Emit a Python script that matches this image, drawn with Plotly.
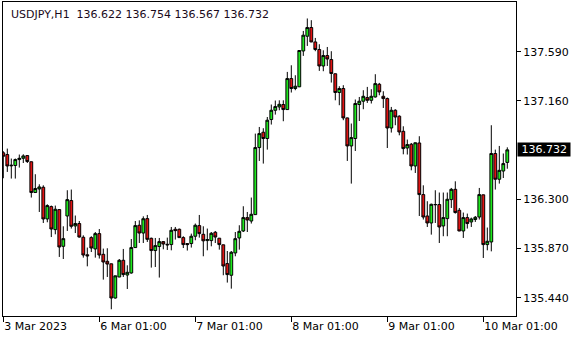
import plotly.graph_objects as go

symbol = "USDJPY,H1"
opens = [136.706,136.691,136.592,136.595,136.647,136.658,136.682,136.628,136.359,136.390,
136.405,136.128,136.236,136.035,136.210,135.889,136.154,136.289,136.067,136.088,
135.968,135.815,135.965,135.866,136.000,135.819,135.758,135.736,135.437,135.621,
135.767,135.638,135.656,135.878,136.073,136.005,136.131,135.959,135.852,135.887,
135.930,135.907,135.904,136.038,136.038,135.965,135.913,135.913,135.977,136.070,
135.994,135.939,135.939,136.012,135.960,135.902,135.738,135.636,135.831,135.962,
136.023,136.140,136.110,136.166,136.752,136.886,136.831,136.997,137.078,137.107,
137.128,137.084,137.355,137.268,137.283,137.596,137.725,137.801,137.675,137.609,
137.465,137.556,137.521,137.397,137.233,137.268,137.011,136.766,136.831,137.128,
137.157,137.189,137.165,137.194,137.305,137.200,137.180,136.923,137.078,137.026,
136.894,136.748,136.781,136.591,136.792,136.341,136.154,136.093,136.252,136.254,
136.067,136.131,136.297,136.387,136.204,136.023,136.140,136.102,136.123,136.145,
136.339,135.904,135.927,136.700,136.475,136.547,136.622]
highs = [136.720,136.743,136.656,136.656,136.691,136.693,136.685,136.630,136.519,136.431,
136.422,136.256,136.245,136.245,136.213,136.064,136.379,136.385,136.158,136.110,
135.985,135.878,135.977,136.014,136.040,135.869,135.872,135.738,135.633,135.778,
135.866,135.723,135.953,136.110,136.116,136.151,136.163,135.965,135.962,135.962,
135.933,135.965,136.058,136.058,136.044,135.977,135.915,136.000,136.088,136.163,
136.064,136.044,136.014,136.023,135.962,135.904,135.848,135.848,136.014,136.073,
136.239,136.189,136.315,136.874,136.932,136.921,137.019,137.128,137.163,137.165,
137.165,137.413,137.471,137.384,137.602,137.771,137.880,137.865,137.710,137.655,
137.602,137.631,137.594,137.399,137.288,137.297,137.014,136.962,137.172,137.194,
137.253,137.282,137.262,137.393,137.317,137.244,137.189,137.107,137.087,137.034,
136.938,136.822,136.792,136.796,136.851,136.422,136.283,136.262,136.379,136.359,
136.359,136.359,136.399,136.457,136.224,136.184,136.175,136.140,136.154,136.399,
136.341,136.053,136.947,136.734,136.766,136.700,136.754]
lows = [136.484,136.539,136.481,136.481,136.577,136.617,136.617,136.315,136.355,136.189,
136.093,136.099,135.970,135.994,135.796,135.778,136.023,136.044,136.005,135.965,
135.790,135.714,135.839,135.790,135.782,135.598,135.621,135.339,135.432,135.619,
135.621,135.516,135.650,135.876,135.918,135.918,135.927,135.703,135.708,135.616,
135.863,135.857,135.854,135.948,135.963,135.874,135.852,135.878,135.942,135.965,
135.802,135.854,135.889,135.918,135.860,135.636,135.572,135.519,135.802,135.860,
136.014,136.014,136.088,136.165,136.635,136.612,136.734,136.953,137.040,137.078,
136.982,137.082,137.233,137.253,137.280,137.553,137.640,137.673,137.594,137.422,
137.419,137.465,137.320,137.165,137.122,136.991,136.635,136.437,136.722,136.984,
137.087,137.142,137.137,137.189,137.209,137.098,136.748,136.883,136.947,136.859,
136.693,136.691,136.553,136.530,136.154,136.123,136.058,135.991,136.093,135.918,
135.977,135.977,136.224,136.175,136.021,135.962,136.044,136.058,136.102,136.123,
135.787,135.854,135.845,136.385,136.437,136.486,136.567]
closes = [136.676,136.591,136.597,136.647,136.658,136.679,136.630,136.359,136.394,136.408,
136.128,136.245,136.040,136.213,135.883,135.956,136.297,136.064,136.088,135.970,
135.813,135.806,135.874,136.000,135.813,135.752,135.734,135.437,135.631,135.767,
135.642,135.662,135.878,136.070,136.005,136.130,135.950,135.852,135.895,135.930,
135.909,135.902,136.029,136.026,135.965,135.904,135.904,135.977,136.073,136.000,
135.937,135.948,136.003,135.970,135.904,135.717,135.642,135.837,135.956,136.020,
136.140,136.119,136.169,136.752,136.874,136.831,136.991,137.078,137.110,137.130,
137.084,137.355,137.268,137.288,137.600,137.734,137.801,137.675,137.609,137.465,
137.556,137.526,137.399,137.233,137.268,137.011,136.766,136.839,137.137,137.157,
137.200,137.165,137.200,137.311,137.238,137.180,136.923,137.078,137.019,136.888,
136.743,136.778,136.591,136.794,136.341,136.145,136.093,136.256,136.254,136.058,
136.140,136.300,136.387,136.184,136.023,136.140,136.088,136.128,136.143,136.341,
135.904,135.933,136.700,136.475,136.553,136.612,136.732]

x_tick_bars = [0, 24, 48, 72, 96, 120]
x_tick_labels = ["3 Mar 2023", "6 Mar 01:00", "7 Mar 01:00", "8 Mar 01:00",
                 "9 Mar 01:00", "10 Mar 01:00"]
y_tick_vals = [135.440, 135.870, 136.300, 137.160, 137.590]
y_tick_labels = ["135.440", "135.870", "136.300", "137.160", "137.590"]

bars = list(range(len(opens)))
FONT = "DejaVu Sans"

fig = go.Figure()
fig.add_trace(go.Candlestick(
    x=bars, open=opens, high=highs, low=lows, close=closes,
    increasing=dict(line=dict(color="black", width=1), fillcolor="#1ee81e"),
    decreasing=dict(line=dict(color="black", width=1), fillcolor="#e01414"),
    whiskerwidth=0, hoverinfo="skip", showlegend=False,
))

last = len(closes) - 1
title = (symbol + "\u00a0\u00a0" +
         " ".join(f"{v:.3f}" for v in (opens[last], highs[last], lows[last], closes[last])))

fig.update_layout(
    width=580, height=340,
    margin=dict(l=3, r=64, t=2, b=24),
    paper_bgcolor="white", plot_bgcolor="white",
    font=dict(family=FONT, size=11, color="black"),
    showlegend=False,
    boxgap=0.3, boxgroupgap=0,
    xaxis=dict(
        range=[-0.075, 128.175], rangeslider=dict(visible=False),
        tickmode="array", tickvals=x_tick_bars, ticktext=x_tick_labels,
        ticks="outside", ticklen=5, tickcolor="black", tickwidth=1,
        ticklabelposition="outside right",
        showgrid=False, zeroline=False,
        showline=True, mirror=True, linecolor="black", linewidth=1,
        tickfont=dict(family=FONT, size=11, color="black"),
    ),
    yaxis=dict(
        range=[135.280, 138.024], side="right",
        tickmode="array", tickvals=y_tick_vals, ticktext=y_tick_labels,
        ticks="outside", ticklen=4, tickcolor="black", tickwidth=1,
        showgrid=False, zeroline=False,
        showline=True, mirror=True, linecolor="black", linewidth=1,
        tickfont=dict(family=FONT, size=11, color="black"),
    ),
    annotations=[
        dict(text=title, xref="paper", yref="paper", x=0, y=1,
             xanchor="left", yanchor="top", xshift=6, yshift=-4,
             showarrow=False, font=dict(family=FONT, size=11, color="#1a0a1a")),
        dict(text="\u00a0" + f"{closes[last]:.3f}" + "\u00a0", xref="paper", yref="y",
             x=1, y=closes[last], xanchor="left", yanchor="middle", xshift=1,
             showarrow=False, bgcolor="black", borderpad=0,
             font=dict(family=FONT, size=11, color="white")),
    ],
)

fig.write_html("out.html")
